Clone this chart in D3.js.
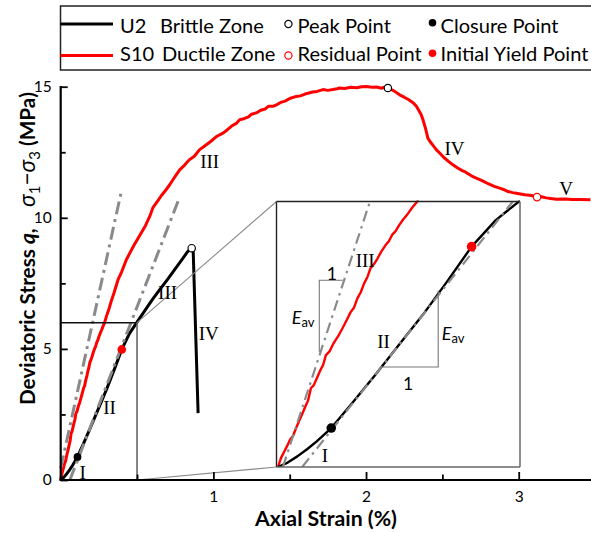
<!DOCTYPE html>
<html><head><meta charset="utf-8">
<script src="https://cdn.jsdelivr.net/npm/d3@7/dist/d3.min.js"></script>
<style>body{margin:0;background:#fff}svg{display:block}</style>
</head><body>
<svg id="chart" width="591" height="533"></svg>
<script>
// ---------- data ----------
const xTicksMajor = [1, 2, 3];
const xTicksMinor = [0.5, 1.5, 2.5];
const yTicksMajor = [0, 5, 10, 15];
const yTicksMinor = [2.5, 7.5, 12.5];

// U2 brittle zone (axial strain %, deviatoric stress MPa)
const u2Strain = [0,0.02,0.04,0.06,0.08,0.11,0.15,0.2,0.25,0.3,0.35,0.4,0.45,0.5,0.55,0.6,0.65,0.7,0.75,0.8,0.83,0.858,0.868,0.9];
const u2Stress = [0,0.1,0.24,0.4,0.58,0.88,1.4,2.07,2.76,3.45,4.2,4.98,5.58,6.02,6.45,6.88,7.27,7.65,8.05,8.45,8.7,8.84,8.7,2.55];

// S10 ductile zone
const s10Strain = [0,0.006,0.013,0.02,0.025,0.031,0.037,0.044,0.05,0.057,0.062,0.068,0.074,0.08,0.088,0.093,0.099,0.107,0.115,0.124,0.133,0.141,0.15,0.157,0.164,0.171,0.178,0.185,0.191,0.198,0.205,0.213,0.222,0.229,0.236,0.243,0.25,0.259,0.268,0.277,0.287,0.3,0.315,0.33,0.35,0.375,0.4,0.43,0.455,0.48,0.505,0.53,0.555,0.583,0.605,0.63,0.66,0.69,0.714,0.735,0.779,0.81,0.84,0.875,0.91,0.945,0.98,1.02,1.063,1.09,1.12,1.15,1.172,1.2,1.23,1.25,1.281,1.31,1.34,1.36,1.39,1.42,1.44,1.47,1.5,1.543,1.57,1.6,1.62,1.65,1.68,1.718,1.75,1.783,1.81,1.827,1.86,1.9,1.94,1.97,2.0,2.04,2.07,2.1,2.12,2.143,2.18,2.22,2.25,2.28,2.31,2.33,2.345,2.36,2.373,2.39,2.405,2.42,2.44,2.46,2.482,2.51,2.54,2.569,2.6,2.63,2.65,2.69,2.722,2.76,2.8,2.84,2.875,2.9,2.93,2.96,2.984,3.04,3.07,3.093,3.12,3.15,3.18,3.21,3.246,3.3,3.35,3.4,3.47];
const s10Stress = [0,0.2,0.35,0.5,0.62,0.7,0.87,1.05,1.2,1.38,1.5,1.78,1.85,2.0,2.2,2.3,2.53,2.62,2.8,2.95,3.13,3.3,3.5,3.6,3.81,3.95,4.15,4.3,4.49,4.58,4.7,4.86,5.01,5.1,5.25,5.33,5.46,5.6,5.72,5.86,5.99,6.25,6.5,6.8,7.15,7.63,7.95,8.4,8.68,8.95,9.2,9.45,9.7,10.05,10.4,10.6,10.85,11.07,11.26,11.45,11.83,12.0,12.2,12.35,12.6,12.75,12.9,13.1,13.23,13.35,13.5,13.6,13.74,13.78,13.85,13.95,14.0,14.1,14.15,14.25,14.25,14.33,14.4,14.45,14.55,14.63,14.65,14.72,14.75,14.8,14.82,14.89,14.86,14.89,14.92,14.95,14.93,14.98,14.96,15.0,15.01,14.98,14.99,14.94,14.98,14.95,14.85,14.69,14.6,14.5,14.38,14.25,14.1,13.95,13.74,13.4,13.04,12.9,12.75,12.6,12.47,12.3,12.15,12.02,11.9,11.8,11.75,11.6,11.51,11.42,11.3,11.2,11.13,11.08,11.0,10.96,10.94,10.88,10.86,10.84,10.79,10.8,10.76,10.74,10.71,10.72,10.7,10.7,10.69];

// average-modulus tangent lines [strain, stress] endpoints
const tangentMainU2 = [[0.06, 0], [0.78, 10.8]];
const tangentMainS10 = [[0.0, 0.45], [0.397, 11.0]];
const tangentInsetU2 = [[0.05, 0], [0.485, 6.0]];
const tangentInsetS10 = [[0.01, 0], [0.19, 6.0]];

// characteristic points
const closurePoints = [[0.11, 0.88]];
const yieldPoints = [[0.40, 4.98]];
const peakPoints = [[0.858, 8.84]];
const peakPointsS10 = [[2.143, 14.95]];
const residualPoints = [[3.12, 10.79]];

// zone labels [text, strain, stress]
const mainLabels = [["I",0.144,0.3],["II",0.32,2.75],["III",0.70,7.14],["IV",0.97,5.6],["III",0.976,12.15],["IV",2.58,12.66],["V",3.31,11.1]];
const insetLabels = [["I",0.097,0.27],["II",0.218,2.83],["III",0.18,4.67]];
// slope triangles
const triS10 = {xv:0.0853, yTop:4.22, yBot:2.60, xEnd:0.1337};
const triU2 = {xv:0.331, yTop:3.99, yBot:2.26, xStart:0.211};

const legendRows = [
  {series:"U2", zone:"Brittle Zone", color:"#000", marker:"Peak Point", markerColor:"#000", dot:"Closure Point", dotColor:"#000"},
  {series:"S10", zone:"Ductile Zone", color:"#ff0000", marker:"Residual Point", markerColor:"#ff0000", dot:"Initial Yield Point", dotColor:"#ff0000"}
];

// ---------- drawing ----------
const svg = d3.select("#chart");
const FONT = "Lato, 'Open Sans', sans-serif";
const SERIF = "'Liberation Serif', 'DejaVu Serif', serif";

const x = d3.scaleLinear().domain([0, 3.5]).range([60.7, 60.7 + 3.5 * 152.67]);
const y = d3.scaleLinear().domain([0, 15]).range([480, 86.7]);

const u2 = u2Strain.map((s, i) => [s, u2Stress[i]]);
const s10 = s10Strain.map((s, i) => [s, s10Stress[i]]);

// ---------- legend ----------
const lg = svg.append("g");
lg.append("rect").attr("x", 60.5).attr("y", 6).attr("width", 560).attr("height", 64)
  .attr("fill", "#fff").attr("stroke", "#222").attr("stroke-width", 1.5);
const rowY = [24, 55.5], baseY = [32.5, 61];
const legTexts = [];
legendRows.forEach((r, i) => {
  lg.append("line").attr("x1", 60.5).attr("x2", 113).attr("y1", rowY[i]).attr("y2", rowY[i])
    .attr("stroke", r.color).attr("stroke-width", 3);
  legTexts.push(lg.append("text").attr("x", 120).attr("y", baseY[i]).text(r.series));
  legTexts.push(lg.append("text").attr("x", i === 0 ? 160 : 162).attr("y", baseY[i]).text(r.zone));
  lg.append("circle").attr("cx", 288.4).attr("cy", rowY[i]).attr("r", 3.6)
    .attr("fill", "#fff").attr("stroke", r.markerColor).attr("stroke-width", 1.2);
  legTexts.push(lg.append("text").attr("x", 297.5).attr("y", baseY[i]).text(r.marker));
  lg.append("circle").attr("cx", 432.5).attr("cy", i === 0 ? 22.7 : 53.3).attr("r", 3.8)
    .attr("fill", r.dotColor);
  legTexts.push(lg.append("text").attr("x", 440.5).attr("y", baseY[i]).text(r.dot));
});
legTexts.forEach(t => t.attr("font-family", FONT).attr("font-size", 19).attr("fill", "#000"));
{
  const w = legTexts[legTexts.length - 1].node().getComputedTextLength();
  const fs = 19 * 148 / w;
  legTexts.forEach(t => t.attr("font-size", fs));
}

// ---------- main curves ----------
const line = d3.line().x(d => x(d[0])).y(d => y(d[1]));
svg.append("path").datum(s10).attr("d", line).attr("fill", "none")
  .attr("stroke", "#ff0000").attr("stroke-width", 3).attr("stroke-linejoin", "round");
svg.append("path").datum(u2).attr("d", line).attr("fill", "none")
  .attr("stroke", "#000").attr("stroke-width", 3).attr("stroke-linejoin", "round");
[tangentMainU2, tangentMainS10].forEach(t => {
  svg.append("path").datum(t).attr("d", line).attr("fill", "none")
    .attr("stroke", "#8a8a8a").attr("stroke-width", 3).attr("stroke-dasharray", "13,5,3,5");
});

// zoom rectangle in main + connectors
svg.append("line").attr("x1", x(0)).attr("x2", x(0.5)).attr("y1", y(6)).attr("y2", y(6))
  .attr("stroke", "#111").attr("stroke-width", 1.4);
svg.append("line").attr("x1", x(0.5)).attr("x2", x(0.5)).attr("y1", y(6)).attr("y2", y(0))
  .attr("stroke", "#666").attr("stroke-width", 1.6);
const IX0 = 276.5, IX1 = 520, IY0 = 467, IY1 = 201.5;
svg.append("line").attr("x1", x(0.5)).attr("y1", y(6)).attr("x2", IX0).attr("y2", IY1)
  .attr("stroke", "#8a8a8a").attr("stroke-width", 1.1);
svg.append("line").attr("x1", x(0.5)).attr("y1", y(0)).attr("x2", IX0).attr("y2", IY0)
  .attr("stroke", "#8a8a8a").attr("stroke-width", 1.1);

// main markers
svg.selectAll(".cl").data(closurePoints).join("circle").attr("cx", d => x(d[0])).attr("cy", d => y(d[1]))
  .attr("r", 3.9).attr("fill", "#000");
svg.selectAll(".yl").data(yieldPoints).join("circle").attr("cx", d => x(d[0])).attr("cy", d => y(d[1]))
  .attr("r", 4.3).attr("fill", "#ff0000");
svg.selectAll(".pk").data(peakPoints.concat(peakPointsS10)).join("circle").attr("cx", d => x(d[0])).attr("cy", d => y(d[1]))
  .attr("r", 3.7).attr("fill", "#fff").attr("stroke", "#000").attr("stroke-width", 1.2);
svg.selectAll(".rs").data(residualPoints).join("circle").attr("cx", d => x(d[0])).attr("cy", d => y(d[1]))
  .attr("r", 3.7).attr("fill", "#fff").attr("stroke", "#ff0000").attr("stroke-width", 1.2);

// main labels
svg.selectAll(".ml").data(mainLabels).join("text").attr("x", d => x(d[1])).attr("y", d => y(d[2]))
  .attr("text-anchor", "middle").attr("dominant-baseline", "central")
  .attr("font-family", SERIF).attr("font-size", 19).text(d => d[0]);

// ---------- inset ----------
const ix = d3.scaleLinear().domain([0, 0.5]).range([278, IX1]);
const iy = d3.scaleLinear().domain([0, 6]).range([IY0, IY1]);
const ins = svg.append("g");
ins.append("rect").attr("x", IX0).attr("y", IY1).attr("width", IX1 - IX0).attr("height", IY0 - IY1).attr("fill", "#fff");
svg.append("clipPath").attr("id", "ic").append("rect").attr("x", IX0).attr("y", IY1 - 1)
  .attr("width", IX1 - IX0).attr("height", IY0 - IY1 + 1);
const icg = ins.append("g").attr("clip-path", "url(#ic)");
const iline = d3.line().x(d => ix(d[0])).y(d => iy(d[1]));
icg.append("path").datum(s10).attr("d", iline).attr("fill", "none")
  .attr("stroke", "#ff0000").attr("stroke-width", 2.4).attr("stroke-linejoin", "round");
icg.append("path").datum(u2).attr("d", iline).attr("fill", "none")
  .attr("stroke", "#000").attr("stroke-width", 2.4).attr("stroke-linejoin", "round");
[tangentInsetU2, tangentInsetS10].forEach(t => {
  icg.append("path").datum(t).attr("d", iline).attr("fill", "none")
    .attr("stroke", "#8a8a8a").attr("stroke-width", 2.2).attr("stroke-dasharray", "11,5,2.5,5");
});
// slope triangles
const triPath = d3.path();
triPath.moveTo(ix(triS10.xv), iy(triS10.yBot)); triPath.lineTo(ix(triS10.xv), iy(triS10.yTop)); triPath.lineTo(ix(triS10.xEnd), iy(triS10.yTop));
triPath.moveTo(ix(triU2.xStart), iy(triU2.yBot)); triPath.lineTo(ix(triU2.xv), iy(triU2.yBot)); triPath.lineTo(ix(triU2.xv), iy(triU2.yTop));
ins.append("path").attr("d", triPath.toString()).attr("fill", "none").attr("stroke", "#777").attr("stroke-width", 1.1);
// inset frame
ins.append("line").attr("x1", IX0).attr("x2", IX0).attr("y1", IY1).attr("y2", IY0).attr("stroke", "#222").attr("stroke-width", 1.4);
ins.append("line").attr("x1", IX0).attr("x2", IX1).attr("y1", IY1).attr("y2", IY1).attr("stroke", "#222").attr("stroke-width", 1.4);
ins.append("line").attr("x1", IX1).attr("x2", IX1).attr("y1", IY1).attr("y2", IY0).attr("stroke", "#666").attr("stroke-width", 1.5);
ins.append("line").attr("x1", IX0).attr("x2", IX1).attr("y1", IY0).attr("y2", IY0).attr("stroke", "#666").attr("stroke-width", 1.5);
// inset markers
ins.selectAll(".icl").data(closurePoints).join("circle").attr("cx", d => ix(d[0])).attr("cy", d => iy(d[1]))
  .attr("r", 4.8).attr("fill", "#000");
ins.selectAll(".iyl").data(yieldPoints).join("circle").attr("cx", d => ix(d[0])).attr("cy", d => iy(d[1]))
  .attr("r", 4.8).attr("fill", "#ff0000");
// inset labels
ins.selectAll(".il").data(insetLabels).join("text").attr("x", d => ix(d[1])).attr("y", d => iy(d[2]))
  .attr("text-anchor", "middle").attr("dominant-baseline", "central")
  .attr("font-family", SERIF).attr("font-size", 19).text(d => d[0]);
ins.append("text").attr("x", ix(0.111)).attr("y", iy(4.37)).attr("text-anchor", "middle").attr("dominant-baseline", "central")
  .attr("font-family", FONT).attr("font-size", 17.5).text("1");
ins.append("text").attr("x", ix(0.269)).attr("y", iy(1.89)).attr("text-anchor", "middle").attr("dominant-baseline", "central")
  .attr("font-family", FONT).attr("font-size", 17.5).text("1");
[[0.052, 3.39], [0.362, 3.02]].forEach(p => {
  const t = ins.append("text").attr("x", ix(p[0])).attr("y", iy(p[1])).attr("text-anchor", "middle")
    .attr("dominant-baseline", "central").attr("font-family", FONT);
  t.append("tspan").attr("font-style", "italic").attr("font-size", 18).text("E");
  t.append("tspan").attr("font-size", 13).attr("dy", 5).text("av");
});

// ---------- axes ----------
const yAxis = svg.append("g").attr("transform", `translate(${x(0)},0)`)
  .call(d3.axisLeft(y).tickValues(yTicksMajor).tickSize(-7).tickSizeOuter(0).tickPadding(9).tickFormat(d3.format("d")));
const yMinor = svg.append("g").attr("transform", `translate(${x(0)},0)`)
  .call(d3.axisLeft(y).tickValues(yTicksMinor).tickSize(-5).tickSizeOuter(0).tickFormat(""));
const xAxis = svg.append("g").attr("transform", `translate(0,${y(0)})`)
  .call(d3.axisBottom(x).tickValues(xTicksMajor).tickSize(-8).tickSizeOuter(0).tickPadding(11).tickFormat(d3.format("d")));
const xMinor = svg.append("g").attr("transform", `translate(0,${y(0)})`)
  .call(d3.axisBottom(x).tickValues(xTicksMinor).tickSize(-5.5).tickSizeOuter(0).tickFormat(""));
[yAxis, yMinor, xAxis, xMinor].forEach(g => {
  g.select(".domain").remove();
  g.selectAll(".tick line").attr("stroke", "#000").attr("stroke-width", 1.8);
  g.selectAll(".tick text").attr("font-family", FONT).attr("font-size", 15.5).attr("fill", "#000");
});
svg.append("line").attr("x1", x(0)).attr("x2", x(0)).attr("y1", y(0) + 1).attr("y2", 86)
  .attr("stroke", "#000").attr("stroke-width", 2.2);
svg.append("line").attr("x1", x(0) - 1).attr("x2", 591).attr("y1", y(0)).attr("y2", y(0))
  .attr("stroke", "#000").attr("stroke-width", 2.2);

// axis titles
const xt = svg.append("text").attr("x", 326).attr("y", 526).attr("text-anchor", "middle")
  .attr("font-family", FONT).attr("font-weight", "bold").attr("font-size", 18).text("Axial Strain (%)");
{
  const w = xt.node().getComputedTextLength();
  xt.attr("font-size", 18 * 142 / w);
}
// y title
{
  const probe = svg.append("text").attr("font-family", FONT).attr("font-weight", "bold")
    .attr("font-size", 18).text("Deviatoric Stress");
  const fsB = 18 * 156 / probe.node().getComputedTextLength();
  probe.remove();
  const fsS = fsB * 1.1, fsSub = fsB * 0.72;
  const yt = svg.append("text").attr("transform", "translate(35,0) rotate(-90)")
    .attr("x", -405).attr("y", 0).attr("font-family", FONT).attr("fill", "#000");
  yt.append("tspan").attr("font-weight", "bold").attr("font-size", fsB).text("Deviatoric Stress ");
  yt.append("tspan").attr("font-weight", "bold").attr("font-style", "italic").attr("font-size", fsB).text("q");
  yt.append("tspan").attr("font-weight", "bold").attr("font-size", fsB).text(",");
  const gap = yt.append("tspan").attr("font-size", fsB).text("\u00a0\u00a0");
  yt.append("tspan").attr("font-style", "italic").attr("font-size", fsS).text("\u03c3");
  yt.append("tspan").attr("font-size", fsSub).attr("dy", 5).text("1");
  yt.append("tspan").attr("font-size", fsS).attr("dy", -5).text("\u2212");
  yt.append("tspan").attr("font-style", "italic").attr("font-size", fsS).text("\u03c3");
  yt.append("tspan").attr("font-size", fsSub).attr("dy", 5).text("3");
  yt.append("tspan").attr("font-weight", "bold").attr("font-size", fsB).attr("dy", -5).text("\u00a0(MPa)");
  const L = yt.node().getComputedTextLength();
  const extra = 313 - L;
  if (extra > 0) gap.attr("dx", extra);
}
</script>
</body></html>
